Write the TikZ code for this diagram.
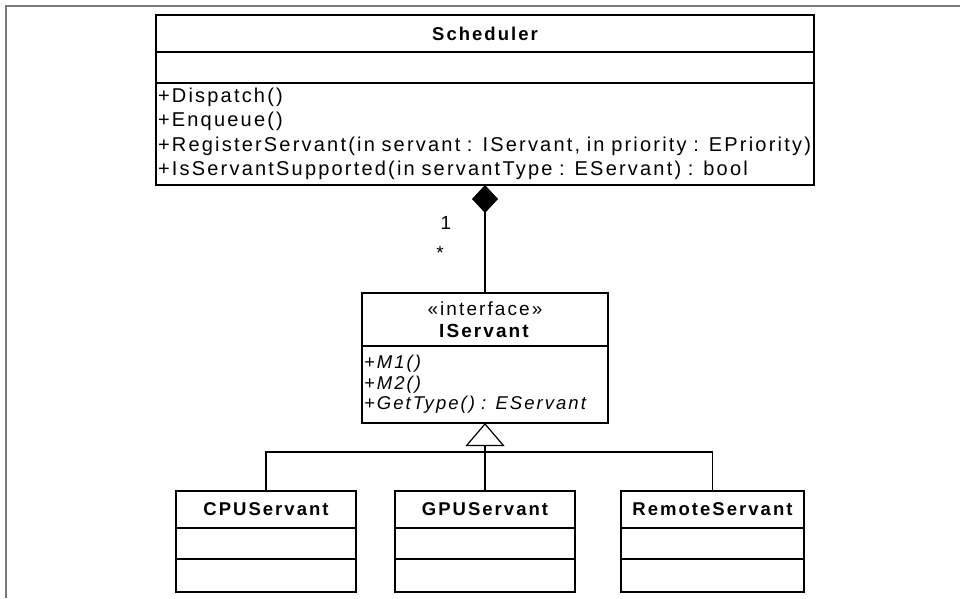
\documentclass[tikz,border=0pt]{standalone}
\usepackage{fontspec}
\setmainfont{Liberation Sans}[LetterSpace=11]
\usepackage{tikz}
\usetikzlibrary{arrows.meta,positioning}
\definecolor{framegray}{RGB}{122,122,122}

\begin{document}
\begin{tikzpicture}[
            x=1pt, y=-1pt,
            font=\fontsize{20}{24.5}\selectfont,
            box/.style={rectangle, draw, line width=1.2pt, inner sep=2pt, outer sep=0pt},
            clsname/.style={box, minimum height=37pt, font=\fontsize{18.5}{22}\selectfont\bfseries},
            attrbox/.style={box, minimum height=31pt},
            opsbox/.style={box, minimum height=33pt},
            line/.style={line width=1.2pt},
            comp/.style={line, -{Diamond[length=28pt,width=26pt]}},
            inherit/.style={line, -{Triangle[open,length=23pt,width=39pt]}},
            mult/.style={inner sep=0pt, font=\fontsize{19}{22}\selectfont}
        ]
            \useasboundingbox (0,0) rectangle (960,598);
            \draw[framegray, line width=2pt] (5.5,598) -- (5.5,5.5) -- (960,5.5);

            % Scheduler
            \node[clsname, minimum width=658pt] (sched) at (485,33.5) {Scheduler};
            \node[attrbox, minimum width=658pt, below=0pt of sched] (schedattr) {};
            \node[box, minimum height=102pt, text width=654pt, align=left, below=0pt of schedattr] (schedops)
                {+Dispatch()\\+Enqueue()\\+RegisterServant(in servant : IServant, in priority : EPriority)\\+IsServantSupported(in servantType : EServant) : bool};

            % IServant
            \node[box, minimum width=246pt, minimum height=53pt, align=center, font=\fontsize{19}{22}\selectfont] (iserv) at (485,319.5)
                {«interface»\\\textbf{IServant}};
            \node[box, minimum height=77pt, text width=242pt, align=left, font=\fontsize{18.5}{20.5}\selectfont\itshape, below=0pt of iserv] (iservops)
                {+M1()\\+M2()\\+GetType() : EServant};

            % Servants
            \node[clsname, minimum width=180pt] (cpu) at (266,509.5) {CPUServant};
            \node[attrbox, minimum width=180pt, below=0pt of cpu] (cpuattr) {};
            \node[opsbox, minimum width=180pt, below=0pt of cpuattr] (cpuops) {};

            \node[clsname, minimum width=180pt] (gpu) at (485,509.5) {GPUServant};
            \node[attrbox, minimum width=180pt, below=0pt of gpu] (gpuattr) {};
            \node[opsbox, minimum width=180pt, below=0pt of gpuattr] (gpuops) {};

            \node[clsname, minimum width=183pt] (remote) at (712.5,509.5) {RemoteServant};
            \node[attrbox, minimum width=183pt, below=0pt of remote] (remoteattr) {};
            \node[opsbox, minimum width=183pt, below=0pt of remoteattr] (remoteops) {};

            % Connectors
            \draw[comp] (iserv.north) -- (schedops.south);
            \node[mult] (one) at (446,223) {1};
            \node[mult] (many) at (440,253) {*};

            \coordinate (bus) at (485,452);
            \draw[inherit] (gpu.north) -- (iservops.south);
            \draw[line] (cpu.north) |- (bus) -| (remote.north);
        \end{tikzpicture}
\end{document}
